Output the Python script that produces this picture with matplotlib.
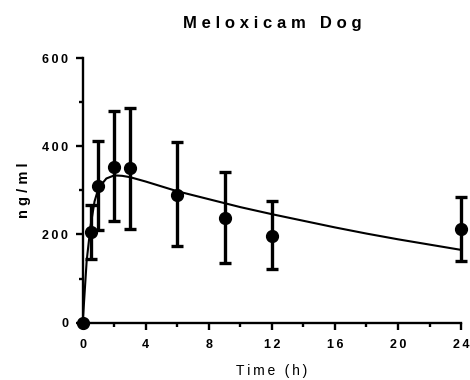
import numpy as np
import matplotlib
matplotlib.use('Agg')
import matplotlib.pyplot as plt
from matplotlib.ticker import MultipleLocator

plt.rcParams['font.family'] = ['Liberation Sans', 'DejaVu Sans']

# measured points (mean +/- SD)
time_h = [0, 0.5, 1, 2, 3, 6, 9, 12, 24]
conc_mean = [0, 205, 311, 354, 350, 290, 237, 197, 212]
conc_upper = [0, 267, 412, 481, 486, 409, 341, 275, 286]
conc_lower = [0, 145, 209, 230, 213, 173, 136, 121, 139]

# fitted curve
fit_t = [0, 0.25, 0.5, 0.75, 1, 1.5, 2, 2.5, 3, 4, 5, 6, 8, 10, 12, 14, 16, 18, 20, 22, 24]
fit_c = [0, 140, 220, 275, 305, 327, 334, 333, 330, 320, 309, 298, 280, 262, 246, 231, 216, 202, 189, 177, 165]

x_ticks = [0, 4, 8, 12, 16, 20, 24]
y_ticks = [0, 200, 400, 600]

THIN = '\u2009'
HAIR = '\u200a'


def spaced(s, gap=THIN):
    # Prism-style wide letter spacing
    return gap.join(s)


mean = np.array(conc_mean)
yerr = [mean - np.array(conc_lower), np.array(conc_upper) - mean]

fig = plt.figure(figsize=(4.7, 3.8), dpi=100)
ax = fig.add_axes([0.176, 0.151, 0.805, 0.696])

ax.plot(fit_t, fit_c, color='black', lw=1.5, clip_on=False, zorder=2)
ax.errorbar(time_h, conc_mean, yerr=yerr, fmt='o', color='black', ms=8.5,
            elinewidth=2.4, capsize=4, capthick=2.4, clip_on=False, zorder=3)

ax.set_xlim(0, 24)
ax.set_ylim(0, 600)
ax.set_xticks(x_ticks)
ax.set_yticks(y_ticks)
ax.set_xticklabels([spaced(str(t)) for t in x_ticks], fontweight='bold')
ax.set_yticklabels([spaced(str(t)) for t in y_ticks], fontweight='bold')
ax.xaxis.set_minor_locator(MultipleLocator(2))
ax.yaxis.set_minor_locator(MultipleLocator(100))

for side in ['top', 'right']:
    ax.spines[side].set_visible(False)
for side in ['left', 'bottom']:
    ax.spines[side].set_linewidth(1.7)

ax.tick_params(which='major', length=5, width=1.7, labelsize=9)
ax.tick_params(axis='y', which='major', pad=5.5)
ax.tick_params(axis='x', which='major', pad=7)
ax.tick_params(which='minor', length=3, width=1.7)

ax.set_xlabel(spaced('Time (h)'), fontsize=10, labelpad=9)
ax.set_ylabel(spaced('ng/ml', THIN + HAIR), fontsize=10.5, fontweight='bold', labelpad=8)
ax.set_title(spaced('Meloxicam Dog', THIN + HAIR), fontsize=12, fontweight='bold', pad=22)

fig.savefig('out.png', dpi=100)
